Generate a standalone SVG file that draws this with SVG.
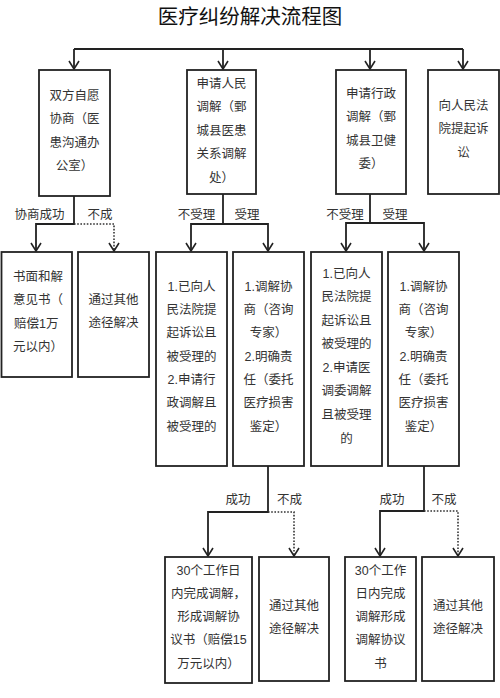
<svg xmlns="http://www.w3.org/2000/svg" width="500" height="698" viewBox="0 0 500 698">
<style>
.bg{fill:#ffffff}
.box{fill:#ffffff;stroke:#222222;stroke-width:1.8}
.ln{fill:none;stroke:#222222;stroke-width:1.8}
.dot{fill:none;stroke:#333333;stroke-width:1.6;stroke-dasharray:1.6 1.6}
.t{font-family:"Liberation Sans","Noto Sans CJK SC",sans-serif;font-size:12.5px;fill:#333333;text-anchor:middle}
.ts{text-anchor:start}
.title{font-family:"Noto Sans CJK SC","Liberation Sans",sans-serif;font-size:20.5px;fill:#111111;text-anchor:middle}
</style>
<defs>
<marker id="arr" viewBox="0 0 10 12" refX="9" refY="6" markerWidth="10" markerHeight="12" markerUnits="userSpaceOnUse" orient="auto">
<path d="M1,1 L9,6 L1,11" fill="none" stroke="#222222" stroke-width="1.6" stroke-dasharray="none"/>
</marker>
</defs>
<rect class="bg" x="0" y="0" width="500" height="698"/>
<text class="title" x="250" y="24">医疗纠纷解决流程图</text>

<g id="connectors">
<path class="ln" d="M74,49 H463"/>
<path class="ln" d="M74,49 V69" marker-end="url(#arr)"/>
<path class="ln" d="M223,49 V69" marker-end="url(#arr)"/>
<path class="ln" d="M370,49 V69" marker-end="url(#arr)"/>
<path class="ln" d="M463,49 V69" marker-end="url(#arr)"/>

<path class="ln" d="M74,196 V224 H36 V251" marker-end="url(#arr)"/>
<path class="dot" d="M74,224 H114 V251" marker-end="url(#arr)"/>

<path class="ln" d="M223,194 V224 H191 V251" marker-end="url(#arr)"/>
<path class="ln" d="M223,224 H268 V251" marker-end="url(#arr)"/>

<path class="ln" d="M370,194 V223 H346 V251" marker-end="url(#arr)"/>
<path class="ln" d="M370,223 H424 V251" marker-end="url(#arr)"/>

<path class="ln" d="M268,466 V512 H208 V556" marker-end="url(#arr)"/>
<path class="dot" d="M268,512 H294 V556" marker-end="url(#arr)"/>

<path class="ln" d="M424,466 V511 H380 V556" marker-end="url(#arr)"/>
<path class="dot" d="M424,511 H458 V556" marker-end="url(#arr)"/>

<text class="t" x="39.5" y="218.5">协商成功</text>
<text class="t" x="100" y="218.5">不成</text>
<text class="t" x="196.5" y="218.5">不受理</text>
<text class="t" x="247" y="218.5">受理</text>
<text class="t" x="345" y="218.5">不受理</text>
<text class="t" x="395" y="218.5">受理</text>
<text class="t" x="238" y="503.5">成功</text>
<text class="t" x="289.5" y="503.5">不成</text>
<text class="t" x="392" y="503.5">成功</text>
<text class="t" x="444" y="503.5">不成</text>
</g>

<g id="n1">
<rect class="box" x="39" y="70" width="71" height="126"/>
<text class="t" x="74.5" y="99.5">双方自愿</text>
<text class="t" x="74.5" y="122.5">协商（医</text>
<text class="t" x="74.5" y="146.5">患沟通办</text>
<text class="t" x="74.5" y="169.5">公室）</text>
</g>
<g id="n2">
<rect class="box" x="187" y="70" width="69" height="124"/>
<text class="t" x="221.5" y="87.5">申请人民</text>
<text class="t" x="221.5" y="111">调解（鄄</text>
<text class="t" x="221.5" y="134.5">城县医患</text>
<text class="t" x="221.5" y="158">关系调解</text>
<text class="t" x="221.5" y="181.5">处）</text>
</g>
<g id="n3">
<rect class="box" x="336" y="70" width="70" height="124"/>
<text class="t" x="371" y="97.5">申请行政</text>
<text class="t" x="371" y="121">调解（鄄</text>
<text class="t" x="371" y="144.5">城县卫健</text>
<text class="t" x="371" y="168">委）</text>
</g>
<g id="n4">
<rect class="box" x="428" y="70" width="71" height="124"/>
<text class="t" x="463.5" y="109.5">向人民法</text>
<text class="t" x="463.5" y="133">院提起诉</text>
<text class="t" x="463.5" y="156.5">讼</text>
</g>

<g id="n1a">
<rect class="box" x="1.5" y="252" width="70.5" height="125"/>
<text class="t ts" x="13" y="280.5">书面和解</text>
<text class="t ts" x="13" y="304">意见书（</text>
<text class="t ts" x="14" y="327.5">赔偿1万</text>
<text class="t ts" x="13" y="351">元以内）</text>
</g>
<g id="n1b">
<rect class="box" x="78" y="252" width="71" height="125"/>
<text class="t" x="113.5" y="303.5">通过其他</text>
<text class="t" x="113.5" y="327">途径解决</text>
</g>

<g id="n2a">
<rect class="box" x="156" y="252" width="71" height="214"/>
<text class="t" x="191.5" y="290.5">1.已向人</text>
<text class="t" x="191.5" y="313.8">民法院提</text>
<text class="t" x="191.5" y="337.2">起诉讼且</text>
<text class="t" x="191.5" y="360.5">被受理的</text>
<text class="t" x="191.5" y="383.8">2.申请行</text>
<text class="t" x="191.5" y="407.2">政调解且</text>
<text class="t" x="191.5" y="430.5">被受理的</text>
</g>
<g id="n2b">
<rect class="box" x="233" y="252" width="71" height="214"/>
<text class="t" x="268.5" y="290.5">1.调解协</text>
<text class="t" x="268.5" y="313.8">商（咨询</text>
<text class="t" x="268.5" y="337.2">专家）</text>
<text class="t" x="268.5" y="360.5">2.明确责</text>
<text class="t" x="268.5" y="383.8">任（委托</text>
<text class="t" x="268.5" y="407.2">医疗损害</text>
<text class="t" x="268.5" y="430.5">鉴定）</text>
</g>
<g id="n3a">
<rect class="box" x="311" y="252" width="71" height="214"/>
<text class="t" x="346.5" y="277.5">1.已向人</text>
<text class="t" x="346.5" y="301.1">民法院提</text>
<text class="t" x="346.5" y="324.6">起诉讼且</text>
<text class="t" x="346.5" y="348.2">被受理的</text>
<text class="t" x="346.5" y="371.8">2.申请医</text>
<text class="t" x="346.5" y="395.4">调委调解</text>
<text class="t" x="346.5" y="418.9">且被受理</text>
<text class="t" x="346.5" y="442.5">的</text>
</g>
<g id="n3b">
<rect class="box" x="388" y="252" width="71" height="214"/>
<text class="t" x="423.5" y="290.5">1.调解协</text>
<text class="t" x="423.5" y="313.8">商（咨询</text>
<text class="t" x="423.5" y="337.2">专家）</text>
<text class="t" x="423.5" y="360.5">2.明确责</text>
<text class="t" x="423.5" y="383.8">任（委托</text>
<text class="t" x="423.5" y="407.2">医疗损害</text>
<text class="t" x="423.5" y="430.5">鉴定）</text>
</g>

<g id="n2b1">
<rect class="box" x="165" y="557" width="87" height="126"/>
<text class="t" x="208.5" y="574.5">30个工作日</text>
<text class="t" x="208.5" y="597.8">内完成调解，</text>
<text class="t" x="208.5" y="621">形成调解协</text>
<text class="t" x="208.5" y="644.2">议书（赔偿15</text>
<text class="t" x="208.5" y="667.5">万元以内）</text>
</g>
<g id="n2b2">
<rect class="box" x="259" y="557" width="70" height="124"/>
<text class="t" x="294" y="609.5">通过其他</text>
<text class="t" x="294" y="632.5">途径解决</text>
</g>
<g id="n3b1">
<rect class="box" x="345" y="557" width="71" height="124"/>
<text class="t" x="380.5" y="574.5">30个工作</text>
<text class="t" x="380.5" y="597.8">日内完成</text>
<text class="t" x="380.5" y="621">调解形成</text>
<text class="t" x="380.5" y="644.2">调解协议</text>
<text class="t" x="380.5" y="667.5">书</text>
</g>
<g id="n3b2">
<rect class="box" x="422" y="557" width="72" height="124"/>
<text class="t" x="458" y="609.5">通过其他</text>
<text class="t" x="458" y="632.5">途径解决</text>
</g>
</svg>
